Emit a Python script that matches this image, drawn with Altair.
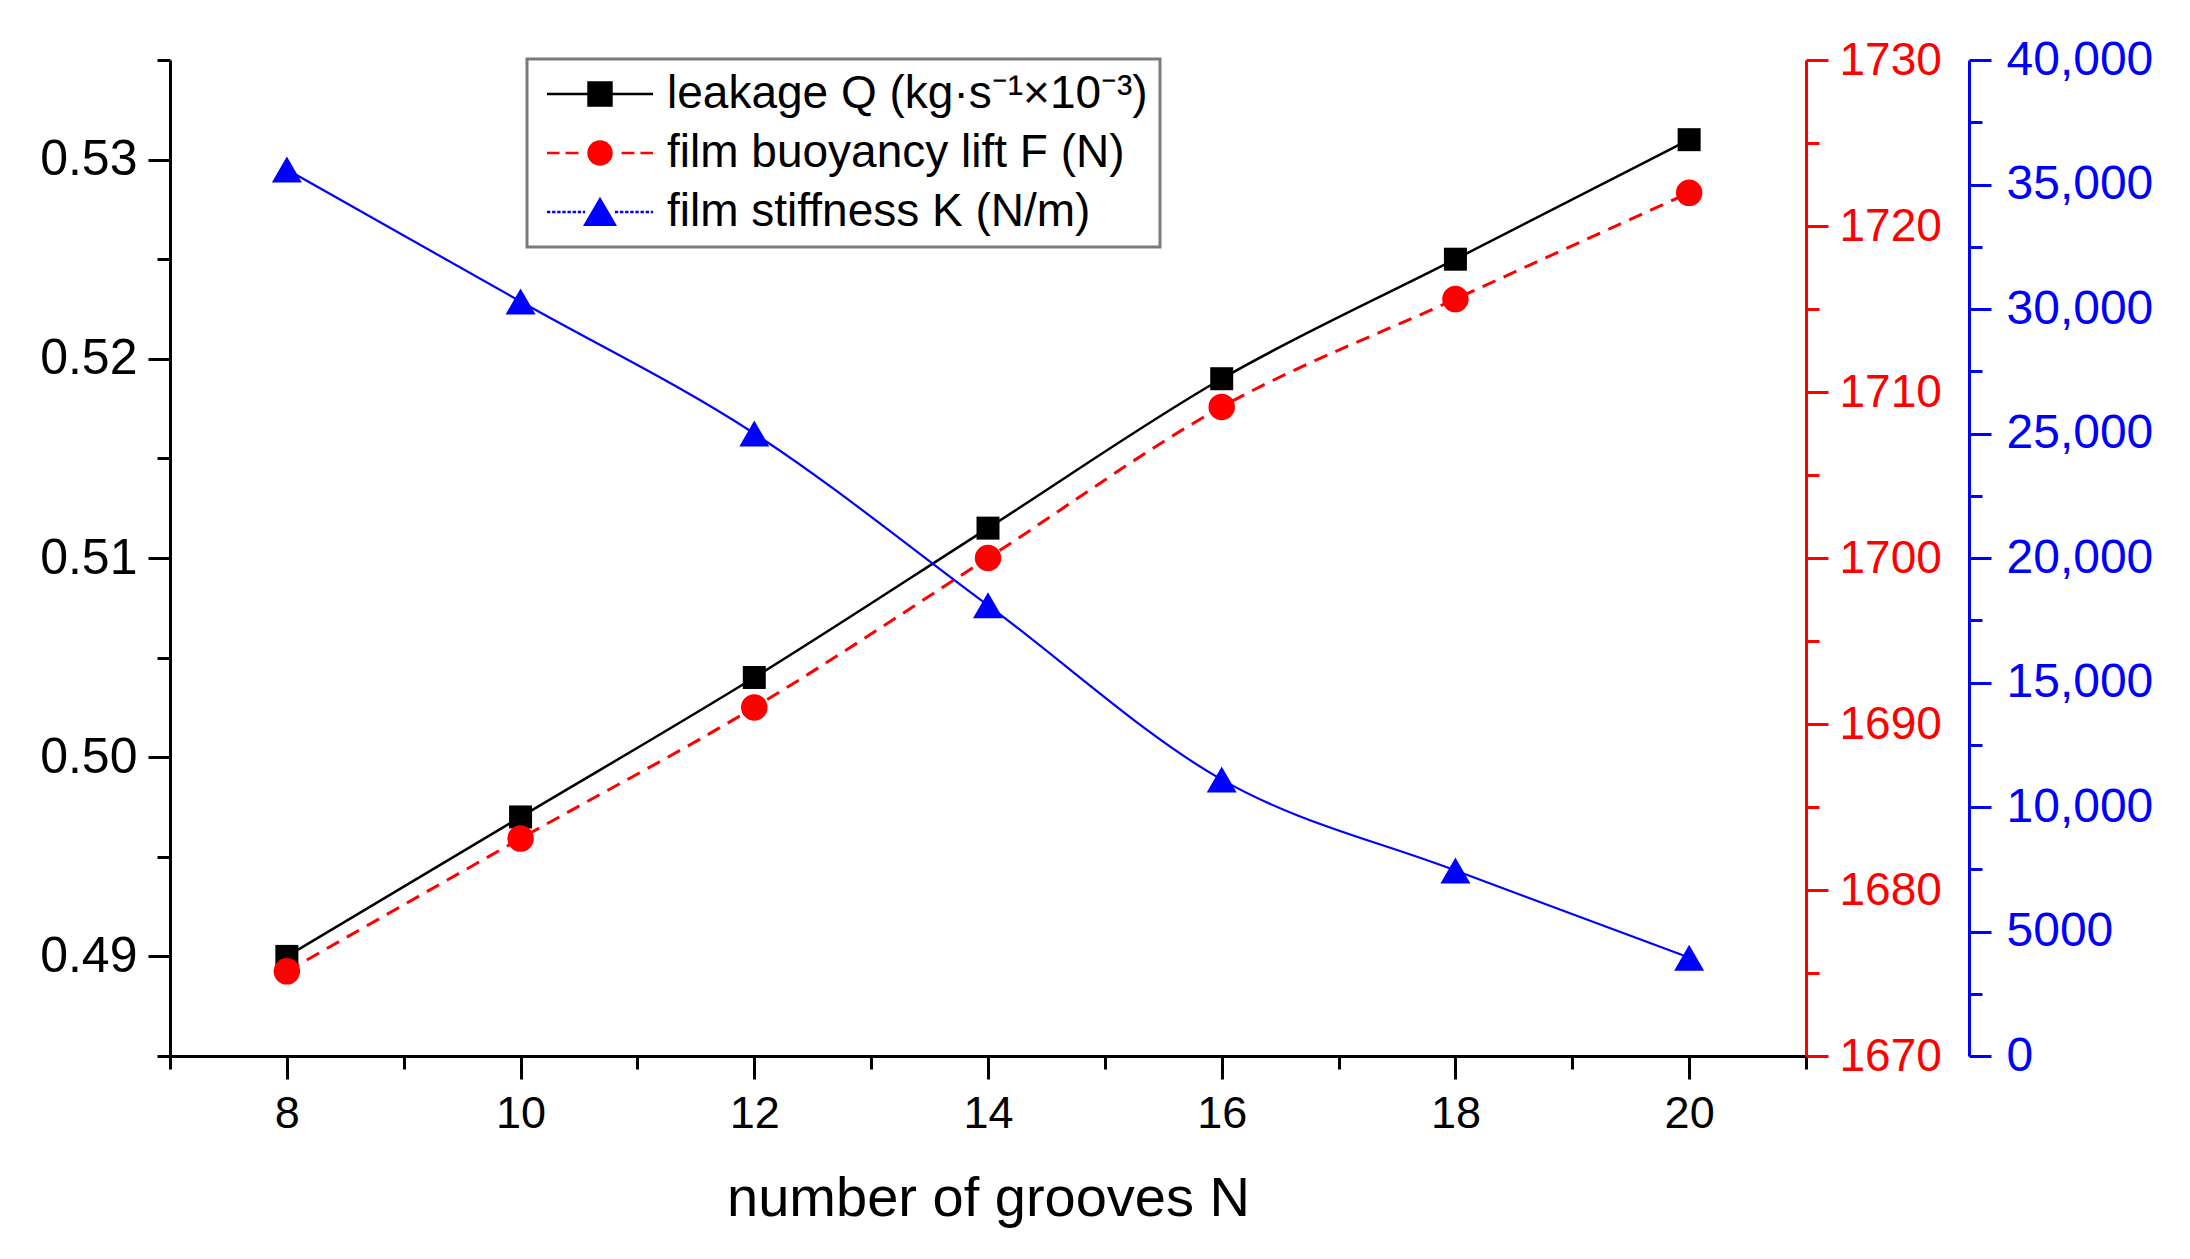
import altair as alt
import pandas as pd

# number of grooves and the three measured series
grooves = [8, 10, 12, 14, 16, 18, 20]
leakage = [0.490, 0.497, 0.504, 0.5115, 0.519, 0.525, 0.531]
lift = [1675.1, 1683.1, 1691.0, 1700.0, 1709.1, 1715.6, 1722.0]
stiffness = [35600, 30300, 25000, 18100, 11100, 7450, 3950]

series_labels = [
    "leakage Q (kg·s⁻¹×10⁻³)",
    "film buoyancy lift F (N)",
    "film stiffness K (N/m)",
]
series_colors = ["#000000", "#ff0000", "#0000ff"]

x_major = [8, 10, 12, 14, 16, 18, 20]
x_minor = [7, 9, 11, 13, 15, 17, 19, 21]
q_major = [0.49, 0.50, 0.51, 0.52, 0.53]
q_minor = [0.485, 0.495, 0.505, 0.515, 0.525, 0.535]
f_major = [1670, 1680, 1690, 1700, 1710, 1720, 1730]
f_minor = [1675, 1685, 1695, 1705, 1715, 1725]
k_major = [0, 5000, 10000, 15000, 20000, 25000, 30000, 35000, 40000]
k_minor = [2500, 7500, 12500, 17500, 22500, 27500, 32500, 37500]

FONT = "Liberation Sans"
RED = "#ff0000"
BLUE = "#0000ff"


def dashed_path(start, end, dash, gap):
    """Returns a path of short horizontal segments between start and end."""
    parts = []
    pos = start
    while pos < end:
        stop = min(pos + dash, end)
        parts.append(f"M{pos:.2f},0H{stop:.2f}")
        pos = stop + gap
    return "".join(parts)


# legend glyphs: line + marker drawn as one custom symbol path
black_glyph = "M-3.93,0H3.93M-0.85,-0.85H0.85V0.85H-0.85Z"
red_glyph = (
    "M-3.93,0H-3.0M-2.55,0H-1.6M1.6,0H2.55M3.0,0H3.93"
    "M0.85,0A0.85,0.85 0 1,1 -0.85,0A0.85,0.85 0 1,1 0.85,0Z"
)
blue_glyph = (
    dashed_path(-3.93, -1.1, 0.25, 0.13)
    + dashed_path(1.1, 3.93, 0.25, 0.13)
    + "M0,-0.95L1.1,0.95L-1.1,0.95Z"
)

frame = pd.DataFrame({"N": grooves, "Q": leakage, "F": lift, "K": stiffness})
legend_frame = pd.DataFrame({"series": series_labels})

x_scale = alt.Scale(domain=[7, 21], nice=False, zero=False)
q_scale = alt.Scale(domain=[0.485, 0.535], nice=False, zero=False)
f_scale = alt.Scale(domain=[1670, 1730], nice=False, zero=False)
k_scale = alt.Scale(domain=[0, 40000], nice=False)


def major_axis(orient, values, color, offset=0, font_size=46, label_padding=8, **kwargs):
    return alt.Axis(
        orient=orient,
        values=values,
        offset=offset,
        grid=False,
        title=None,
        tickSize=22,
        tickWidth=3,
        domainWidth=3,
        tickColor=color,
        domainColor=color,
        labelColor=color,
        labelFont=FONT,
        labelFontSize=font_size,
        labelPadding=label_padding,
        **kwargs,
    )


def minor_axis(orient, values, color, offset=0):
    return alt.Axis(
        orient=orient,
        values=values,
        offset=offset,
        grid=False,
        title=None,
        labels=False,
        domain=False,
        tickSize=13,
        tickWidth=3,
        tickColor=color,
    )


x_major_axis = alt.Axis(
    orient="bottom",
    values=x_major,
    format="d",
    grid=False,
    tickSize=23,
    tickWidth=3,
    domainWidth=3,
    tickColor="black",
    domainColor="black",
    labelColor="black",
    labelFont=FONT,
    labelFontSize=45,
    labelPadding=12,
    title="number of grooves N",
    titleFont=FONT,
    titleFontSize=56,
    titleFontWeight="normal",
    titleColor="black",
    titlePadding=35,
)

# leakage Q on the left axis
q_line = alt.Chart(frame).mark_line(
    color="black", strokeWidth=2.5, interpolate="monotone"
).encode(
    x=alt.X("N:Q", scale=x_scale, axis=x_major_axis),
    y=alt.Y(
        "Q:Q",
        scale=q_scale,
        axis=major_axis("left", q_major, "black", font_size=50, label_padding=11, format=".2f"),
    ),
)
q_points = alt.Chart(frame).mark_point(
    shape="square", filled=True, size=529, color="black", opacity=1
).encode(
    x=alt.X("N:Q", scale=x_scale, axis=minor_axis("bottom", x_minor, "black")),
    y=alt.Y("Q:Q", scale=q_scale, axis=minor_axis("left", q_minor, "black")),
)

legend = alt.Legend(
    title=None,
    orient="none",
    legendX=357,
    legendY=-1,
    labelFont=FONT,
    labelFontSize=46,
    labelColor="black",
    labelLimit=1000,
    labelOffset=44,
    symbolOffset=38,
    symbolSize=729,
    symbolStrokeWidth=2.5,
    symbolOpacity=1,
    padding=12,
    rowPadding=13,
    strokeColor="#7a7a7a",
    fillColor="white",
    cornerRadius=0,
)
legend_layer = alt.Chart(legend_frame).mark_point(filled=True).encode(
    fill=alt.Fill("series:N", scale=alt.Scale(domain=series_labels, range=series_colors), legend=legend),
    stroke=alt.Stroke("series:N", scale=alt.Scale(domain=series_labels, range=series_colors), legend=legend),
    shape=alt.Shape(
        "series:N",
        scale=alt.Scale(domain=series_labels, range=[black_glyph, red_glyph, blue_glyph]),
        legend=legend,
    ),
).transform_filter("false")

left_group = alt.layer(q_line, q_points, legend_layer).resolve_axis(x="independent", y="independent")

# film buoyancy lift F on the first right axis
f_line = alt.Chart(frame).mark_line(
    color=RED, strokeWidth=3, strokeDash=[14, 9], interpolate="monotone"
).encode(
    x=alt.X("N:Q", scale=x_scale, axis=None),
    y=alt.Y(
        "F:Q",
        scale=f_scale,
        axis=major_axis("right", f_major, RED, label_padding=11, format="d"),
    ),
)
f_points = alt.Chart(frame).mark_point(
    shape="circle", filled=True, size=700, color=RED, opacity=1
).encode(
    x=alt.X("N:Q", scale=x_scale, axis=None),
    y=alt.Y("F:Q", scale=f_scale, axis=minor_axis("right", f_minor, RED)),
)
red_group = alt.layer(f_line, f_points).resolve_axis(y="independent")

# film stiffness K on the offset right axis
k_line = alt.Chart(frame).mark_line(
    color=BLUE, strokeWidth=2.2, interpolate="monotone"
).encode(
    x=alt.X("N:Q", scale=x_scale, axis=None),
    y=alt.Y(
        "K:Q",
        scale=k_scale,
        axis=major_axis(
            "right",
            k_major,
            BLUE,
            offset=163,
            font_size=48,
            label_padding=15,
            labelExpr="datum.value >= 10000 ? format(datum.value, ',') : format(datum.value, 'd')",
        ),
    ),
)
k_points = alt.Chart(frame).mark_point(
    shape="triangle-up", filled=True, size=900, color=BLUE, opacity=1
).encode(
    x=alt.X("N:Q", scale=x_scale, axis=None),
    y=alt.Y("K:Q", scale=k_scale, axis=minor_axis("right", k_minor, BLUE, offset=163)),
)
blue_group = alt.layer(k_line, k_points).resolve_axis(y="independent")

chart = (
    alt.layer(left_group, red_group, blue_group)
    .resolve_scale(y="independent")
    .resolve_axis(y="independent")
    .properties(
        width=1636,
        height=996,
        padding={"left": 31, "top": 28, "right": 5, "bottom": 5},
        background="white",
    )
    .configure_view(stroke=None)
    .configure_legend(strokeWidth=3)
)

chart.save("out.html", embed_options={"renderer": "svg", "actions": False})
